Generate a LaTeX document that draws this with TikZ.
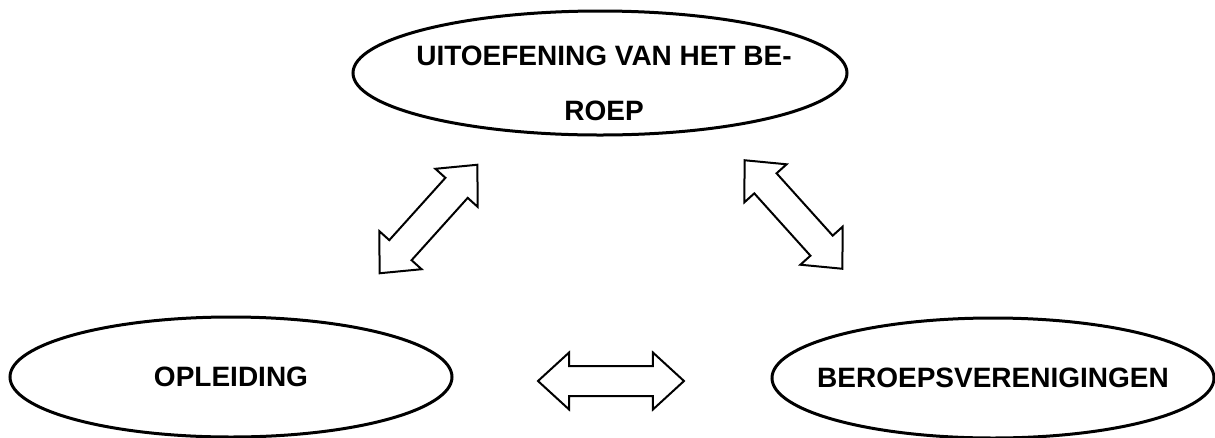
\documentclass[tikz,border=0pt]{standalone}
\usepackage{fontspec}
\setmainfont{Liberation Sans}
\usetikzlibrary{shapes.geometric,shapes.arrows}

\begin{document}
\begin{tikzpicture}[x=0.75pt,y=-0.75pt,
  ovaal/.style={ellipse,draw=black,line width=2.25pt,inner sep=0pt},
  pijl/.style={double arrow,draw=black,line width=1.5pt,inner xsep=0pt,inner ysep=10.5pt,
    minimum height=109.5pt,minimum width=41.25pt,
    double arrow head extend=10.1pt,double arrow tip angle=85},
  tekst/.style={font=\bfseries\fontsize{21}{41}\selectfont,align=center}]
\useasboundingbox (0,0) rectangle (1215,437);

\node[ovaal,minimum width=370.5pt,minimum height=93pt,
label={[tekst,yshift=-8pt,xshift=3pt]center:{UITOEFENING VAN HET BE-\\ROEP}}] (beroep) at (600,73) {};
\node[ovaal,minimum width=331.5pt,minimum height=90pt,
label={[tekst]center:{OPLEIDING}}] (opleiding) at (231,377) {};
\node[ovaal,minimum width=331.5pt,minimum height=90pt,
label={[tekst]center:{BEROEPSVERENIGINGEN}}] (verenigingen) at (993,378) {};

\node[pijl,rotate=48] (pijlLinks) at (428.5,219) {};
\node[pijl,rotate=-48] (pijlRechts) at (793.5,214.5) {};
\node[pijl] (pijlOnder) at (611,381) {};

\end{tikzpicture}
\end{document}
